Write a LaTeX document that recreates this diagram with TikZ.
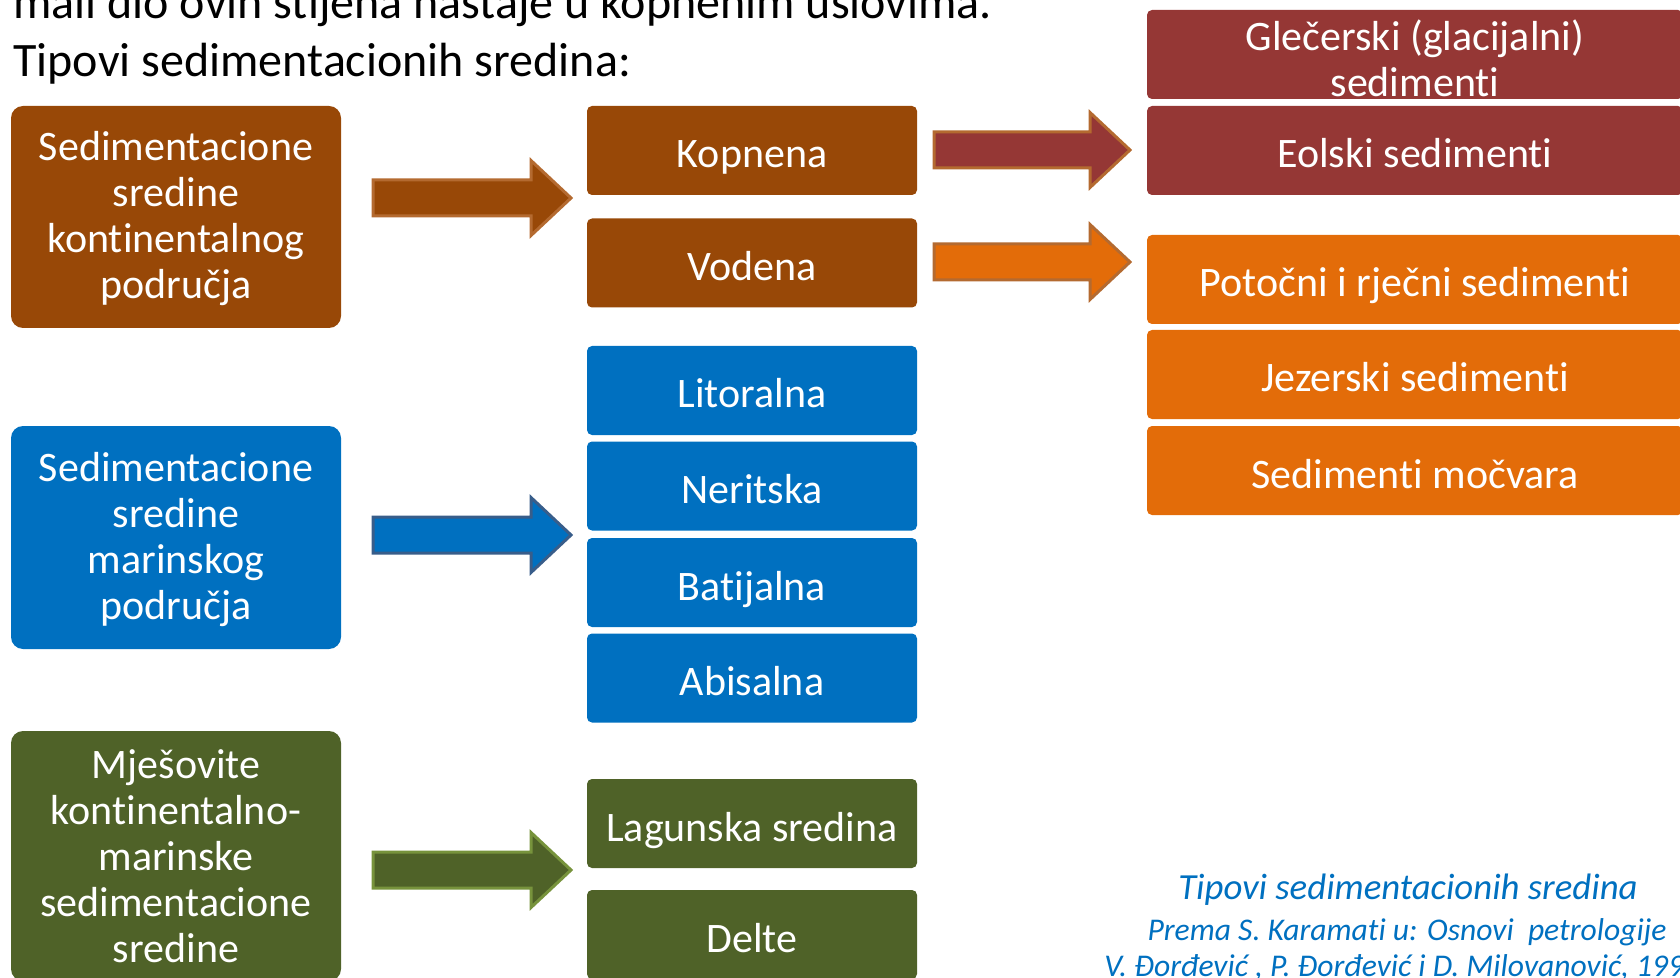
\documentclass[tikz,border=0pt]{standalone}
\usepackage{fontspec}
\setmainfont{Carlito}[Ligatures=NoCommon]
\usetikzlibrary{calc}
\definecolor{cBrown}{HTML}{984807}
\definecolor{cBrownLine}{HTML}{B46A30}
\definecolor{cRed}{HTML}{953735}
\definecolor{cOrange}{HTML}{E36C09}
\definecolor{cBlue}{HTML}{0070C0}
\definecolor{cBlueLine}{HTML}{385D8A}
\definecolor{cGreen}{HTML}{4F6228}
\definecolor{cGreenLine}{HTML}{77933C}
\newcommand\blockarr[3]{%
  \draw[blk,#3] ($(#1)+(0,-18)$) -- ($(#2)+(-40,-18)$) -- ($(#2)+(-40,-37.5)$) -- (#2)
    -- ($(#2)+(-40,37.5)$) -- ($(#2)+(-40,18)$) -- ($(#1)+(0,18)$) -- cycle;}
\begin{document}
\begin{tikzpicture}[x=0.5pt,y=-0.5pt,
  boxtext/.style={text=white,font=\fontsize{21}{23}\selectfont,align=center,inner sep=0pt},
  bigbox/.style={boxtext,rounded corners=6pt,minimum width=165pt,text width=160pt},
  onebox/.style={boxtext,rounded corners=2.5pt,minimum height=44.5pt,text height=17.5pt,text depth=0pt},
  midbox/.style={onebox,minimum width=165pt},
  rightbox/.style={onebox,minimum width=268pt},
  tworight/.style={boxtext,rounded corners=2.5pt,minimum height=44.5pt,minimum width=268pt},
  blk/.style={line width=1.5pt,line join=miter},
  toptext/.style={anchor=base west,inner sep=0pt,font=\fontsize{24}{28}\selectfont},
  captext/.style={inner sep=0pt,text=cBlue,font=\itshape}]
\useasboundingbox (0,0) rectangle (1680,978);
\clip (0,0) rectangle (1680,978);

% top text
\node[toptext] (t1) at (13,19) {mali dio ovih stijena nastaje u kopnenim uslovima.};
\node[toptext] (t2) at (13,77) {Tipovi sedimentacionih sredina:};

% left boxes
\node[bigbox,fill=cBrown,minimum height=111pt] (b1) at (176,217) {\rule{0pt}{16.5pt}Sedimentacione\\sredine\\kontinentalnog\\područja};
\node[bigbox,fill=cBlue,minimum height=111.5pt] (b2) at (176,537.5) {\rule{0pt}{16.5pt}Sedimentacione\\sredine\\marinskog\\područja};
\node[bigbox,fill=cGreen,minimum height=125pt] (b3) at (176,856) {Mješovite\\kontinentalno-\\marinske\\sedimentacione\\sredine};

% middle boxes
\node[midbox,fill=cBrown] (kop) at (752,150.5) {Kopnena};
\node[midbox,fill=cBrown] (vod) at (752,263) {Vodena};
\node[midbox,fill=cBlue] (lit) at (752,390.5) {Litoralna};
\node[midbox,fill=cBlue] (ner) at (752,486) {Neritska};
\node[midbox,fill=cBlue] (bat) at (752,582.5) {Batijalna};
\node[midbox,fill=cBlue] (abi) at (752,678) {Abisalna};
\node[midbox,fill=cGreen] (lag) at (752,823.5) {Lagunska sredina};
\node[midbox,fill=cGreen] (del) at (752,934.5) {Delte};

% right boxes
\node[tworight,fill=cRed] (gle) at (1415,54.5) {\rule{0pt}{19pt}Glečerski (glacijalni)\\sedimenti};
\node[rightbox,fill=cRed] (eol) at (1415,150.5) {Eolski sedimenti};
\node[rightbox,fill=cOrange] (pot) at (1415,279.5) {Potočni i rječni sedimenti};
\node[rightbox,fill=cOrange] (jez) at (1415,374.5) {Jezerski sedimenti};
\node[rightbox,fill=cOrange] (moc) at (1415,470.5) {Sedimenti močvara};

% arrows
\coordinate (a1s) at (373,198);  \coordinate (a1e) at (571,198);
\coordinate (a2s) at (373,535);  \coordinate (a2e) at (571,535);
\coordinate (a3s) at (373,870);  \coordinate (a3e) at (571,870);
\coordinate (a4s) at (934,150);  \coordinate (a4e) at (1130,150);
\coordinate (a5s) at (934,262);  \coordinate (a5e) at (1130,262);
\blockarr{a1s}{a1e}{fill=cBrown,draw=cBrownLine}
\blockarr{a2s}{a2e}{fill=cBlue,draw=cBlueLine}
\blockarr{a3s}{a3e}{fill=cGreen,draw=cGreenLine}
\blockarr{a4s}{a4e}{fill=cRed,draw=cBrownLine}
\blockarr{a5s}{a5e}{fill=cOrange,draw=cBrownLine}

% caption
\node[captext,font=\itshape\fontsize{18.4}{22}\selectfont] (c1) at (1408,890) {Tipovi sedimentacionih sredina};
\node[captext,font=\itshape\fontsize{15.8}{18}\selectfont] (c2) at (1407,932) {Prema S. Karamati u: Osnovi~ petrologije};
\node[captext,font=\itshape\fontsize{15.8}{18}\selectfont,anchor=west] (c3) at (1104,968) {V. Đorđević , P. Đorđević i D. Milovanović, 1990};
\end{tikzpicture}
\end{document}
